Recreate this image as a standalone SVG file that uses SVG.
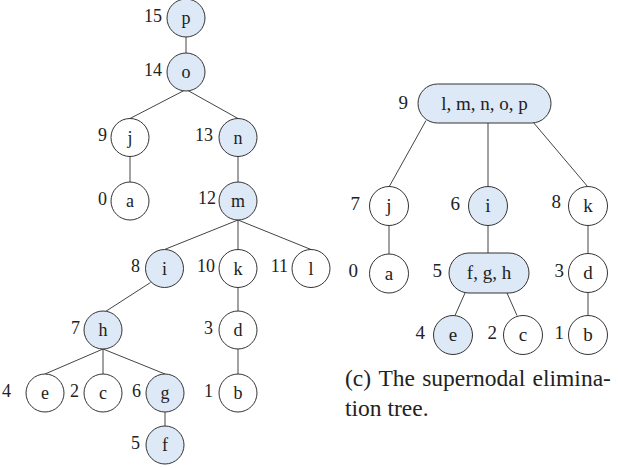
<svg xmlns="http://www.w3.org/2000/svg" width="618" height="468" viewBox="0 0 618 468">
<style>
text{font-family:"Liberation Serif","Times New Roman",serif;fill:#222}
.lab{font-size:18px;text-anchor:end}
.nm{font-size:18px;text-anchor:middle}
.rl{font-size:19px;text-anchor:end}
.rn{font-size:19px;text-anchor:middle}
.cap{font-size:23.5px}
.w{fill:#fff;stroke:#333;stroke-width:1}
.b{fill:#dde9f6;stroke:#333;stroke-width:1}
#edges line{stroke:#444;stroke-width:1}
</style>
<rect width="618" height="468" fill="#fff"/>
<g id="edges">
<line x1="186" y1="37" x2="186" y2="53"/>
<line x1="185" y1="90" x2="130" y2="118.5"/>
<line x1="187" y1="90" x2="238" y2="118.5"/>
<line x1="130" y1="156.5" x2="130" y2="182"/>
<line x1="238" y1="156.5" x2="238" y2="182"/>
<line x1="238" y1="220" x2="164.5" y2="249.5"/>
<line x1="238" y1="220" x2="238" y2="249.5"/>
<line x1="238" y1="220" x2="311" y2="249.5"/>
<line x1="150.5" y1="282.5" x2="106" y2="311.2"/>
<line x1="103" y1="349" x2="45" y2="374"/>
<line x1="103" y1="349" x2="103" y2="374"/>
<line x1="103" y1="349" x2="165" y2="374"/>
<line x1="238" y1="287.5" x2="238" y2="311"/>
<line x1="238" y1="349" x2="238" y2="374"/>
<line x1="165" y1="412" x2="165" y2="426"/>
<line x1="426" y1="120.5" x2="389" y2="187"/>
<line x1="488" y1="123" x2="488" y2="187"/>
<line x1="533" y1="122" x2="588" y2="187"/>
<line x1="389" y1="225" x2="389" y2="254"/>
<line x1="488" y1="225" x2="488" y2="253"/>
<line x1="588" y1="225" x2="588" y2="254"/>
<line x1="465" y1="293" x2="455" y2="315.5"/>
<line x1="507" y1="293" x2="517" y2="315.5"/>
<line x1="588" y1="292" x2="588" y2="316"/>
</g>
<g id="L-p"><circle class="b" cx="186" cy="18" r="19"/><text class="nm" x="186" y="24">p</text><text class="lab" x="162" y="22">15</text></g>
<g id="L-o"><circle class="b" cx="186" cy="72" r="19"/><text class="nm" x="186" y="78">o</text><text class="lab" x="162" y="76">14</text></g>
<g id="L-j"><circle class="w" cx="130" cy="137.5" r="19"/><text class="nm" x="130" y="143.5">j</text><text class="lab" x="107" y="141">9</text></g>
<g id="L-n"><circle class="b" cx="238" cy="137.5" r="19"/><text class="nm" x="238" y="143.5">n</text><text class="lab" x="213" y="141">13</text></g>
<g id="L-a"><circle class="w" cx="130" cy="201" r="19"/><text class="nm" x="130" y="207">a</text><text class="lab" x="107" y="205">0</text></g>
<g id="L-m"><circle class="b" cx="238" cy="201" r="19"/><text class="nm" x="238" y="207">m</text><text class="lab" x="216" y="204">12</text></g>
<g id="L-i"><circle class="b" cx="164.5" cy="268.5" r="19"/><text class="nm" x="164.5" y="274.5">i</text><text class="lab" x="140" y="272">8</text></g>
<g id="L-k"><circle class="w" cx="238" cy="268.5" r="19"/><text class="nm" x="238" y="274.5">k</text><text class="lab" x="215" y="272">10</text></g>
<g id="L-l"><circle class="w" cx="311" cy="268.5" r="19"/><text class="nm" x="311" y="274.5">l</text><text class="lab" x="288" y="272">11</text></g>
<g id="L-h"><circle class="b" cx="103" cy="330" r="19"/><text class="nm" x="103" y="336">h</text><text class="lab" x="80" y="334">7</text></g>
<g id="L-d"><circle class="w" cx="238" cy="330" r="19"/><text class="nm" x="238" y="336">d</text><text class="lab" x="213" y="334">3</text></g>
<g id="L-e"><circle class="w" cx="45" cy="393" r="19"/><text class="nm" x="45" y="399">e</text><text class="lab" x="11" y="397">4</text></g>
<g id="L-c"><circle class="w" cx="103" cy="393" r="19"/><text class="nm" x="103" y="399">c</text><text class="lab" x="79" y="397">2</text></g>
<g id="L-g"><circle class="b" cx="165" cy="393" r="19"/><text class="nm" x="165" y="399">g</text><text class="lab" x="141" y="397">6</text></g>
<g id="L-b"><circle class="w" cx="238" cy="393" r="19"/><text class="nm" x="238" y="399">b</text><text class="lab" x="213" y="397">1</text></g>
<g id="L-f"><circle class="b" cx="165" cy="445" r="19"/><text class="nm" x="165" y="451">f</text><text class="lab" x="140" y="449">5</text></g>
<g id="R-lmnop"><rect class="b" x="418" y="84" width="133" height="39" rx="19.5"/><text class="rn" x="484.5" y="110">l, m, n, o, p</text><text class="rl" x="408" y="109">9</text></g>
<g id="R-j"><circle class="w" cx="389" cy="206" r="19.5"/><text class="rn" x="389" y="212">j</text><text class="rl" x="360" y="210">7</text></g>
<g id="R-i"><circle class="b" cx="488" cy="206" r="19.5"/><text class="rn" x="488" y="212">i</text><text class="rl" x="460" y="210">6</text></g>
<g id="R-k"><circle class="w" cx="588" cy="206" r="19.5"/><text class="rn" x="588" y="212">k</text><text class="rl" x="561" y="208">8</text></g>
<g id="R-a"><circle class="w" cx="389" cy="273.5" r="19.5"/><text class="rn" x="389" y="279.5">a</text><text class="rl" x="358" y="277">0</text></g>
<g id="R-fgh"><rect class="b" x="449" y="253" width="80" height="40" rx="20"/><text class="rn" x="489" y="279">f, g, h</text><text class="rl" x="442" y="277">5</text></g>
<g id="R-d"><circle class="w" cx="588" cy="273" r="19.5"/><text class="rn" x="588" y="279">d</text><text class="rl" x="564" y="277">3</text></g>
<g id="R-e"><circle class="b" cx="453" cy="335" r="19.5"/><text class="rn" x="453" y="341">e</text><text class="rl" x="425" y="339">4</text></g>
<g id="R-c"><circle class="w" cx="523" cy="335" r="19.5"/><text class="rn" x="523" y="341">c</text><text class="rl" x="497" y="339">2</text></g>
<g id="R-b"><circle class="w" cx="588" cy="335" r="19.5"/><text class="rn" x="588" y="341">b</text><text class="rl" x="564" y="339">1</text></g>
<g id="caption">
<text class="cap" y="386"><tspan x="345">(c)</tspan><tspan x="378.4">The</tspan><tspan x="422.2">supernodal</tspan><tspan x="532.6">elimina-</tspan></text>
<text class="cap" x="345" y="416">tion tree.</text>
</g>
</svg>
